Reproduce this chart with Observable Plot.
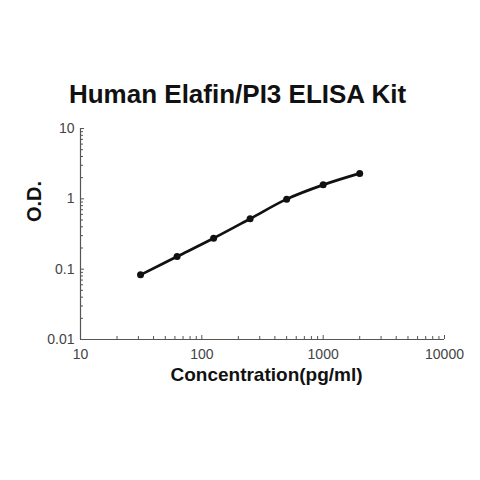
<!DOCTYPE html>
<html>
<head>
<meta charset="utf-8">
<script src="https://cdn.jsdelivr.net/npm/d3@7"></script>
<script src="https://cdn.jsdelivr.net/npm/@observablehq/plot@0.6"></script>
<style>
  html, body { margin: 0; padding: 0; background: #fff; }
  #wrap { position: relative; width: 480px; height: 480px; }
  #title { position: absolute; top: 79px; left: 0; width: 475px; text-align: center;
    font-family: "Liberation Sans", Arial, sans-serif; font-weight: bold; font-size: 26px; color: #111; }
</style>
</head>
<body>
<div id="wrap">
  <div id="title">Human Elafin/PI3 ELISA Kit</div>
</div>
<script>
const concentration = [31.25, 62.5, 125, 250, 500, 1000, 2000];
const od = [0.083, 0.151, 0.275, 0.52, 0.99, 1.58, 2.3];
const xMajor = [10, 100, 1000, 10000];
const yMajor = [0.01, 0.1, 1, 10];
const xMinor = [20,30,40,50,60,70,80,90,200,300,400,500,600,700,800,900,2000,3000,4000,5000,6000,7000,8000,9000];
const yMinor = [0.02,0.03,0.04,0.05,0.06,0.07,0.08,0.09,0.2,0.3,0.4,0.5,0.6,0.7,0.8,0.9,2,3,4,5,6,7,8,9];

const data = concentration.map((c, i) => ({c, od: od[i]}));
const axisColor = "#555";

const chart = Plot.plot({
  width: 480,
  height: 480,
  marginLeft: 80,
  marginRight: 36,
  marginTop: 128,
  marginBottom: 141,
  style: {fontFamily: "Liberation Sans, Arial, sans-serif", background: "white"},
  x: {type: "log", domain: [10, 10000]},
  y: {type: "log", domain: [0.01, 10]},
  marks: [
    Plot.axisX({ticks: xMajor, tickSize: -4, tickPadding: 14, tickFormat: d => String(d), fontSize: 14, color: "#444", stroke: axisColor, label: null}),
    Plot.axisX({ticks: xMinor, tickSize: -3, tickFormat: () => "", stroke: axisColor, label: null}),
    Plot.axisY({ticks: yMajor, tickSize: -4, tickPadding: 10, tickFormat: d => String(d), fontSize: 14, color: "#444", stroke: axisColor, label: null}),
    Plot.axisY({ticks: yMinor, tickSize: -3, tickFormat: () => "", stroke: axisColor, label: null}),
    Plot.ruleY([0.01], {stroke: axisColor, strokeWidth: 1.2}),
    Plot.ruleX([10], {stroke: axisColor, strokeWidth: 1.2}),
    Plot.line(data, {x: "c", y: "od", curve: "catmull-rom", stroke: "#111", strokeWidth: 2.7}),
    Plot.dot(data, {x: "c", y: "od", r: 3.5, fill: "#111", stroke: "none"}),
    Plot.text(["O.D."], {frameAnchor: "left", dx: -46, dy: -12, rotate: -90, fontSize: 20, fontWeight: "bold", fill: "#111"}),
    Plot.text(["Concentration(pg/ml)"], {frameAnchor: "bottom", dx: 4, dy: 41, fontSize: 19, fontWeight: "bold", fill: "#111"})
  ]
});
document.getElementById("wrap").prepend(chart);
chart.style.position = "absolute";
chart.style.top = "0";
chart.style.left = "0";
</script>
</body>
</html>
